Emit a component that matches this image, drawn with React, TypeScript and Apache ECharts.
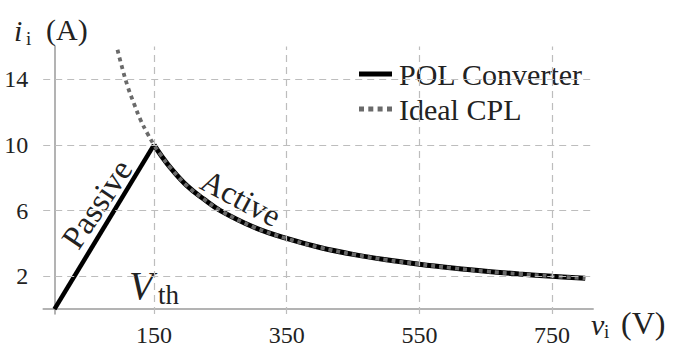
import React, { useEffect, useRef } from "react";
import * as echarts from "echarts";

// Tick values
const xTicks = [150, 350, 550, 750];
const yTicks = [2, 6, 10, 14];

// POL Converter: passive segment (straight) and active segment (curve)
const passiveV = [0, 150];
const passiveI = [0, 10];
const activeV = [150, 160, 175, 200, 225, 250, 300, 350, 400, 450, 500, 550, 600, 650, 700, 750, 800];
const activeI = [10, 9.4, 8.6, 7.5, 6.7, 6.0, 5.0, 4.3, 3.75, 3.33, 3.0, 2.73, 2.5, 2.3, 2.14, 2.0, 1.88];

// Ideal CPL curve
const cplV = [95, 100, 110, 120, 130, 140, 150, 160, 175, 200, 225, 250, 300, 350, 400, 450, 500, 550, 600, 650, 700, 750, 800];
const cplI = [15.8, 15, 13.6, 12.5, 11.5, 10.7, 10, 9.4, 8.6, 7.5, 6.7, 6.0, 5.0, 4.3, 3.75, 3.33, 3.0, 2.73, 2.5, 2.3, 2.14, 2.0, 1.88];

const zip = (a: number[], b: number[]) => a.map((v, i) => [v, b[i]]);

const SERIF = "Liberation Serif";

export default function App() {
  const ref = useRef<HTMLDivElement>(null);
  useEffect(() => {
    if (!ref.current) return;
    const chart = echarts.init(ref.current, null, { renderer: "svg" });
    const gridColor = "#bdbdbd";
    const txt = (text: string, size: number, italic = false) => {
      const s: any = { text, fontFamily: SERIF, fontSize: size, fill: "#222" };
      if (italic) s.fontStyle = "italic";
      return s;
    };
    chart.setOption({
      animation: false,
      grid: { left: 43.2, width: 550, top: 46.4, height: 274.3, containLabel: false },
      textStyle: { fontFamily: SERIF },
      xAxis: {
        type: "value",
        min: -17,
        max: 812,
        axisLine: { show: true, onZero: true, lineStyle: { color: "#9a9a9a", width: 1.5 } },
        axisTick: { show: false },
        splitLine: { show: false },
        axisLabel: {
          customValues: xTicks,
          fontSize: 24,
          fontFamily: SERIF,
          color: "#222",
          margin: 9,
        },
      },
      yAxis: {
        type: "value",
        min: -0.3,
        max: 16,
        axisLine: { show: true, onZero: true, lineStyle: { color: "#9a9a9a", width: 1.5 } },
        axisTick: { show: false },
        splitLine: { show: false },
        axisLabel: {
          customValues: yTicks,
          fontSize: 24,
          fontFamily: SERIF,
          color: "#222",
          margin: 15,
        },
      },
      legend: {
        orient: "vertical",
        left: 354,
        top: 54,
        itemWidth: 33,
        itemHeight: 5,
        itemGap: 5,
        textStyle: { fontSize: 30, fontFamily: SERIF, color: "#222", lineHeight: 30, padding: [0, 0, 0, 2] },
        data: [
          { name: "POL Converter", icon: "rect", itemStyle: { color: "#000" } },
          {
            name: "Ideal CPL",
            icon: "path://M0,0h5v5h-5z M9.3,0h5v5h-5z M18.6,0h5v5h-5z M28,0h5v5h-5z",
            itemStyle: { color: "#6a6a6a" },
          },
        ],
      },
      series: [
        {
          name: "grid",
          type: "line",
          data: [],
          silent: true,
          markLine: {
            silent: true,
            symbol: ["none", "none"],
            label: { show: false },
            lineStyle: { color: gridColor, type: [7, 5], width: 1.2 },
            data: [
              ...xTicks.map((v) => ({ xAxis: v })),
              ...yTicks.map((v) => ({ yAxis: v })),
            ],
          },
        },
        {
          name: "POL Converter",
          type: "line",
          data: zip(passiveV, passiveI),
          showSymbol: false,
          symbol: "none",
          lineStyle: { color: "#000", width: 4.5 },
          itemStyle: { color: "#000" },
          z: 3,
        },
        {
          name: "POL Converter",
          type: "line",
          data: zip(activeV, activeI),
          showSymbol: false,
          symbol: "none",
          smooth: 0.4,
          lineStyle: { color: "#000", width: 5 },
          itemStyle: { color: "#000" },
          z: 3,
        },
        {
          name: "Ideal CPL",
          type: "line",
          data: zip(cplV, cplI),
          showSymbol: false,
          symbol: "none",
          smooth: 0.4,
          lineStyle: { color: "#6a6a6a", width: 3.8, type: [4, 4] },
          itemStyle: { color: "#6a6a6a" },
          z: 4,
        },
      ],
      graphic: [
        // y-axis title i_i (A)
        { type: "text", left: 14, top: 15, style: txt("i", 30, true) },
        { type: "text", left: 26, top: 29, style: txt("i", 19) },
        { type: "text", left: 46, top: 14, style: txt("(A)", 30) },
        // x-axis title v_i (V)
        { type: "text", left: 591, top: 309, style: txt("v", 30, true) },
        { type: "text", left: 604, top: 322, style: txt("i", 19) },
        { type: "text", left: 621, top: 307, style: txt("(V)", 32) },
        // annotations
        {
          type: "text",
          x: 97,
          y: 204,
          rotation: (56 * Math.PI) / 180,
          style: { ...txt("Passive", 33), align: "center", verticalAlign: "middle" },
        },
        {
          type: "text",
          x: 241,
          y: 198,
          rotation: (-28 * Math.PI) / 180,
          style: { ...txt("Active", 32), align: "center", verticalAlign: "middle" },
        },
        { type: "text", left: 129, top: 265, style: txt("V", 40, true) },
        { type: "text", left: 158, top: 281, style: txt("th", 27) },
      ],
    });
    return () => chart.dispose();
  }, []);
  return (
    <div
      ref={ref}
      style={{ position: "fixed", left: 0, top: 0, width: 677, height: 347, background: "#fff" }}
    />
  );
}
